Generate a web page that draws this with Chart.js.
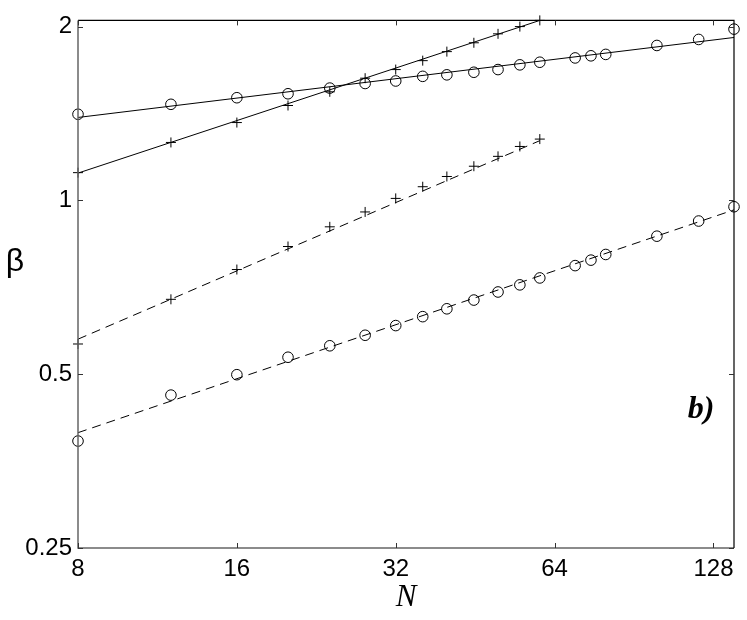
<!DOCTYPE html>
<html>
<head>
<meta charset="utf-8">
<script src="https://cdn.jsdelivr.net/npm/chart.js@4.4.1/dist/chart.umd.min.js"></script>
<style>
  html, body { margin: 0; padding: 0; background: #fff; }
  #wrap { width: 747px; height: 620px; }
</style>
</head>
<body>
<div id="wrap"><canvas id="betaChart" width="747" height="620"></canvas></div>
<script>
// system sizes N
const nLong = [8, 12, 16, 20, 24, 28, 32, 36, 40, 45, 50, 55, 60, 70, 75, 80, 100, 120, 140];
const nShort = [8, 12, 16, 20, 24, 28, 32, 36, 40, 45, 50, 55, 60];

// measured beta values
const circleSolid = [1.41, 1.467, 1.506, 1.53, 1.565, 1.594, 1.61, 1.64, 1.65, 1.667, 1.685, 1.717, 1.735, 1.765, 1.78, 1.79, 1.855, 1.90, 1.98];
const plusSolid = [1.117, 1.26, 1.364, 1.46, 1.542, 1.628, 1.685, 1.746, 1.81, 1.875, 1.943, 2.0, 2.05];
const plusDashed = [0.564, 0.674, 0.759, 0.832, 0.90, 0.955, 1.008, 1.056, 1.10, 1.146, 1.192, 1.24, 1.277];
const circleDashed = [0.383, 0.46, 0.499, 0.535, 0.56, 0.584, 0.607, 0.629, 0.649, 0.672, 0.694, 0.714, 0.734, 0.771, 0.788, 0.806, 0.867, 0.921, 0.975];

// fitted power-law lines (end points)
const fitLongN = [8, 140];
const fitShortN = [8, 60];
const fitCircleSolid = [1.392, 1.915];
const fitPlusSolid = [1.115, 2.05];
const fitPlusDashed = [0.575, 1.269];
const fitCircleDashed = [0.396, 0.963];

// tick labels
const xTicks = [8, 16, 32, 64, 128];
const yTicks = [0.25, 0.5, 1, 2];

const pts = (xs, ys) => xs.map((x, i) => ({ x: x, y: ys[i] }));

function markers(data, style) {
    return {
        type: 'scatter',
        data: data,
        showLine: false,
        pointStyle: style,
        pointRadius: style === 'circle' ? 5.3 : 5,
        pointBorderColor: '#000',
        pointBackgroundColor: 'rgba(0,0,0,0)',
        pointBorderWidth: 1,
        clip: false
    };
}

function fitLine(data, dashed) {
    return {
        type: 'line',
        data: data,
        borderColor: '#000',
        borderWidth: 1,
        borderDash: dashed ? [9, 6] : [],
        pointRadius: 0,
        fill: false,
        clip: false
    };
}

const frameAndText = {
    id: 'frameAndText',
    afterDraw(chart) {
        const ctx = chart.ctx;
        const a = chart.chartArea;
        const xs = chart.scales.x;
        const ys = chart.scales.y;
        ctx.save();
        // left and bottom axes
        ctx.strokeStyle = '#666';
        ctx.lineWidth = 1.5;
        ctx.beginPath();
        ctx.moveTo(a.left, a.top);
        ctx.lineTo(a.left, a.bottom);
        ctx.lineTo(a.right, a.bottom);
        ctx.stroke();
        // top and right
        ctx.strokeStyle = '#000';
        ctx.lineWidth = 1.2;
        ctx.beginPath();
        ctx.moveTo(a.left, a.top);
        ctx.lineTo(a.right, a.top);
        ctx.lineTo(a.right, a.bottom);
        ctx.stroke();
        // inward ticks
        const len = 5;
        ctx.lineWidth = 1;
        ctx.strokeStyle = '#333';
        ctx.beginPath();
        xTicks.forEach(v => {
            const px = Math.round(xs.getPixelForValue(v)) + 0.5;
            ctx.moveTo(px, a.bottom); ctx.lineTo(px, a.bottom - len);
            ctx.moveTo(px, a.top); ctx.lineTo(px, a.top + len);
        });
        yTicks.forEach(v => {
            const py = Math.round(ys.getPixelForValue(v)) + 0.5;
            ctx.moveTo(a.left, py); ctx.lineTo(a.left + len, py);
            ctx.moveTo(a.right, py); ctx.lineTo(a.right - len, py);
        });
        ctx.stroke();
        // y label and panel tag
        ctx.fillStyle = '#000';
        ctx.textAlign = 'center';
        ctx.textBaseline = 'middle';
        ctx.font = '32px "Liberation Sans", Arial, sans-serif';
        ctx.fillText('β', 15, 262);
        ctx.font = 'italic bold 32px "Liberation Serif", "Times New Roman", serif';
        ctx.fillText('b)', 701, 410);
        ctx.restore();
    }
};

const ctx = document.getElementById('betaChart').getContext('2d');
new Chart(ctx, {
    type: 'scatter',
    data: {
        datasets: [
            fitLine(pts(fitLongN, fitCircleSolid), false),
            fitLine(pts(fitShortN, fitPlusSolid), false),
            fitLine(pts(fitShortN, fitPlusDashed), true),
            fitLine(pts(fitLongN, fitCircleDashed), true),
            markers(pts(nLong, circleSolid), 'circle'),
            markers(pts(nShort, plusSolid), 'cross'),
            markers(pts(nShort, plusDashed), 'cross'),
            markers(pts(nLong, circleDashed), 'circle')
        ]
    },
    options: {
        responsive: false,
        devicePixelRatio: 1,
        animation: false,
        layout: { padding: { top: 15, right: 13, left: 0, bottom: 0 } },
        plugins: { legend: { display: false }, tooltip: { enabled: false } },
        scales: {
            x: {
                type: 'logarithmic',
                min: 8,
                max: 140,
                afterBuildTicks: scale => { scale.ticks = xTicks.map(v => ({ value: v })); },
                afterFit: scale => { scale.height = 72; },
                grid: { display: false, drawTicks: false },
                border: { display: false },
                ticks: {
                    autoSkip: false,
                    maxRotation: 0,
                    padding: 7,
                    color: '#000',
                    font: { family: '"Liberation Sans", Arial, sans-serif', size: 24 },
                    callback: v => String(v)
                },
                title: {
                    display: true,
                    text: 'N',
                    color: '#000',
                    padding: { top: 0, bottom: 4 },
                    font: { family: '"Liberation Serif", "Times New Roman", serif', size: 31, style: 'italic' }
                }
            },
            y: {
                type: 'logarithmic',
                min: 0.25,
                max: 2.05,
                afterBuildTicks: scale => { scale.ticks = yTicks.map(v => ({ value: v })); },
                afterFit: scale => { scale.width = 78; },
                grid: { display: false, drawTicks: false },
                border: { display: false },
                ticks: {
                    autoSkip: false,
                    padding: 6,
                    color: '#000',
                    font: { family: '"Liberation Sans", Arial, sans-serif', size: 24 },
                    callback: v => String(v)
                }
            }
        }
    },
    plugins: [frameAndText]
});
</script>
</body>
</html>
